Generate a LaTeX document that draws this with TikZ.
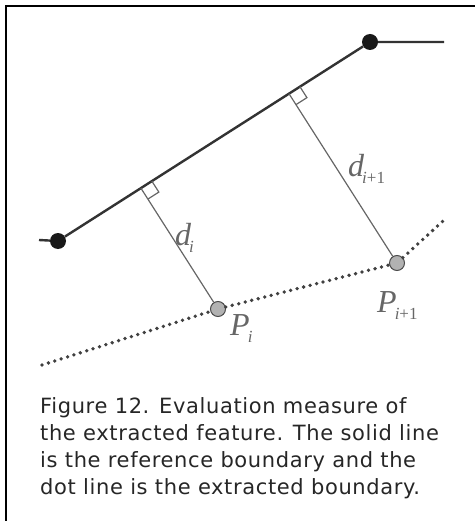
\documentclass[tikz,border=0pt]{standalone}
\usepackage{fontspec}
\setmainfont{DejaVu Sans}[LetterSpace=3]
\newfontfamily\lblfont{Liberation Serif}
\usetikzlibrary{calc, positioning}

\newcommand{\lblsub}[1]{\kern-2pt\raisebox{-7pt}{\fontsize{17}{17}\selectfont #1}}

\begin{document}
\begin{tikzpicture}[
    x=1pt, y=-1pt,
    solidline/.style={draw=black!80, line width=2.4pt},
    dotline/.style={draw=black!75, line width=3.8pt, line cap=round,
        dash pattern=on 0pt off 6.7pt},
    perp/.style={draw=black!60, line width=1.2pt},
    vertex/.style={circle, fill=black!90, inner sep=0pt, minimum size=16pt},
    sample/.style={circle, draw=black!70, line width=1pt, fill=black!30,
        inner sep=0pt, minimum size=15pt},
    lbl/.style={text=black!60, inner sep=0pt,
        font=\lblfont\itshape\fontsize{32}{32}\selectfont},
    caption/.style={text=black!85, inner sep=0pt, align=left,
        font=\fontsize{21}{27}\selectfont}
]

\useasboundingbox (0,0) rectangle (475,521);
\draw[line width=1.4pt] (6,521) -- (6,6) -- (475,6);

\node[vertex] (a) at (58,241) {};
\node[vertex] (b) at (370,42) {};
\coordinate (a0) at (39,240);
\coordinate (b0) at (444,42);

\node[sample] (p1) at (218,309) {};
\node[sample] (p2) at (397,263) {};
\coordinate (q0) at (42,365);
\coordinate (q3) at (443,221);

\draw[solidline] (a0) -- (a) -- (b) -- (b0);
\draw[dotline] (q0) -- (p1) -- (p2) -- (q3);

\foreach \i in {1,2} {
    \coordinate (f\i) at ($(a)!(p\i)!(b)$);
    \coordinate (m\i) at ($(f\i)!13pt!(p\i)$);
    \coordinate (n\i) at ($(f\i)!13pt!(b)$);
    \draw[perp] (f\i) -- (p\i);
    \draw[perp] (m\i) -- ($(m\i)+(n\i)-(f\i)$) -- (n\i);
}

\node[lbl, anchor=base west] (d1) at (175,245) {d\lblsub{i}};
\node[lbl, anchor=base west] (d2) at (348,177) {d\lblsub{i\upshape+1}};
\node[lbl, anchor=base west] (pl1) at (230,335) {P\lblsub{i}};
\node[lbl, anchor=base west] (pl2) at (377,312) {P\lblsub{i\upshape+1}};

\node[caption, anchor=base west] (cap) at (40,494) {Figure 12. Evaluation measure of\\
the extracted feature. The solid line\\
is the reference boundary and the\\
dot line is the extracted boundary.};

\end{tikzpicture}
\end{document}
